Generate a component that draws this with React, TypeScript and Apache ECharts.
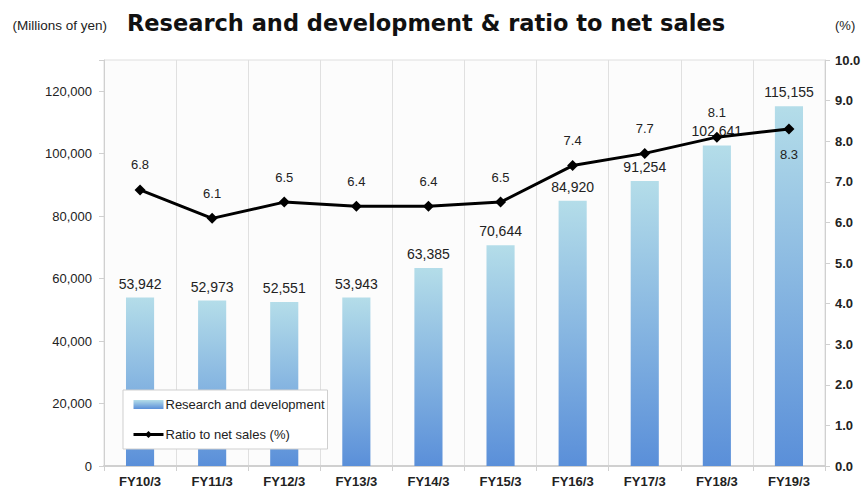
import React, { useEffect, useRef } from "react";
import * as echarts from "echarts";

const categories = ["FY10/3", "FY11/3", "FY12/3", "FY13/3", "FY14/3", "FY15/3", "FY16/3", "FY17/3", "FY18/3", "FY19/3"];
const rdValues = [53942, 52973, 52551, 53943, 63385, 70644, 84920, 91254, 102641, 115155];
const ratioValues = [6.8, 6.1, 6.5, 6.4, 6.4, 6.5, 7.4, 7.7, 8.1, 8.3];
const leftTicks = [0, 20000, 40000, 60000, 80000, 100000, 120000];
const rightTicks = [0, 1, 2, 3, 4, 5, 6, 7, 8, 9, 10];

const FONT = "'Liberation Sans', Arial, sans-serif";

export default function App() {
  const ref = useRef<HTMLDivElement>(null);
  useEffect(() => {
    if (!ref.current) return;
    const chart = echarts.init(ref.current, null, { renderer: "svg" });
    const grad = new echarts.graphic.LinearGradient(0, 0, 0, 1, [
      { offset: 0, color: "#b4dde9" },
      { offset: 1, color: "#5a8fd9" },
    ]);
    chart.setOption({
      animation: false,
      textStyle: { fontFamily: FONT },
      title: {
        text: "Research and development & ratio to net sales",
        left: 421,
        textAlign: "center",
        top: 6,
        textStyle: { fontSize: 22.5, fontWeight: "bold", color: "#111", fontFamily: "'DejaVu Sans', sans-serif" },
      },
      grid: {
        left: 104,
        right: 39,
        top: 60,
        bottom: 27,
        show: true,
        backgroundColor: "#fcfcfc",
        borderColor: "#dedede",
        borderWidth: 1,
      },
      legend: {
        orient: "vertical",
        left: 123,
        top: 390,
        backgroundColor: "#fff",
        borderColor: "#cfcfcf",
        borderWidth: 1,
        padding: [8, 3, 8, 9],
        itemGap: 17,
        itemWidth: 30,
        itemHeight: 9,
        textStyle: { fontSize: 13, color: "#222", fontFamily: FONT, padding: [0, 0, 0, -3] },
        data: [
          { name: "Research and development", icon: "rect" },
          { name: "Ratio to net sales (%)", lineStyle: { width: 3, color: "#000" } },
        ],
      },
      xAxis: {
        type: "category",
        data: categories,
        boundaryGap: true,
        axisLine: { show: true, lineStyle: { color: "#d0d0d0", width: 2 } },
        axisTick: { show: true, length: 5, lineStyle: { color: "#d0d0d0" } },
        splitLine: { show: true, lineStyle: { color: "#e0e0e0", width: 1 } },
        axisLabel: { fontSize: 13, fontWeight: "bold", color: "#222", margin: 9, fontFamily: FONT },
      },
      yAxis: [
        {
          type: "value",
          min: 0,
          max: 130000,
          interval: 20000,
          position: "left",
          axisLine: { show: true, lineStyle: { color: "#d0d0d0", width: 1 } },
          axisTick: { show: true, length: 5, lineStyle: { color: "#d0d0d0" } },
          splitLine: { show: false },
          axisLabel: {
            fontSize: 13,
            color: "#222",
            margin: 12,
            fontFamily: FONT,
            formatter: (v: number) => (leftTicks.includes(v) ? v.toLocaleString("en-US") : ""),
          },
          name: "(Millions of yen)",
          nameLocation: "end",
          nameGap: 28,
          nameTextStyle: { fontSize: 13.5, color: "#222", align: "right", padding: [0, -3, 0, 0], fontFamily: FONT },
        },
        {
          type: "value",
          min: 0,
          max: 10,
          interval: 1,
          position: "right",
          axisLine: { show: true, lineStyle: { color: "#d0d0d0", width: 1 } },
          axisTick: { show: true, length: 5, lineStyle: { color: "#d0d0d0" } },
          splitLine: { show: false },
          axisLabel: {
            fontSize: 13,
            fontWeight: "bold",
            color: "#222",
            margin: 10,
            fontFamily: FONT,
            formatter: (v: number) => (rightTicks.includes(v) ? v.toFixed(1) : ""),
          },
          name: "(%)",
          nameLocation: "end",
          nameGap: 28,
          nameTextStyle: { fontSize: 13, color: "#222", align: "left", padding: [0, 0, 0, 10], fontFamily: FONT },
        },
      ],
      series: [
        {
          name: "Research and development",
          type: "bar",
          yAxisIndex: 0,
          data: rdValues,
          barWidth: "39%",
          itemStyle: { color: grad },
          label: {
            show: true,
            position: "top",
            distance: 7,
            fontSize: 14,
            color: "#222",
            fontFamily: FONT,
            formatter: (p: any) => Number(p.value).toLocaleString("en-US"),
          },
          z: 2,
        },
        {
          name: "Ratio to net sales (%)",
          type: "line",
          yAxisIndex: 1,
          data: ratioValues.map((v, i) => ({
            value: v,
            label: i === ratioValues.length - 1 ? { position: "bottom", distance: 13 } : undefined,
          })),
          symbol: "diamond",
          symbolSize: 11,
          lineStyle: { color: "#000", width: 3 },
          itemStyle: { color: "#000" },
          label: {
            show: true,
            position: "top",
            distance: 13,
            fontSize: 13,
            color: "#222",
            fontFamily: FONT,
            formatter: (p: any) => Number(p.value).toFixed(1),
          },
          z: 3,
        },
      ],
    });
    return () => chart.dispose();
  }, []);
  return <div ref={ref} style={{ position: "absolute", left: 0, top: 0, width: 864, height: 493 }} />;
}
